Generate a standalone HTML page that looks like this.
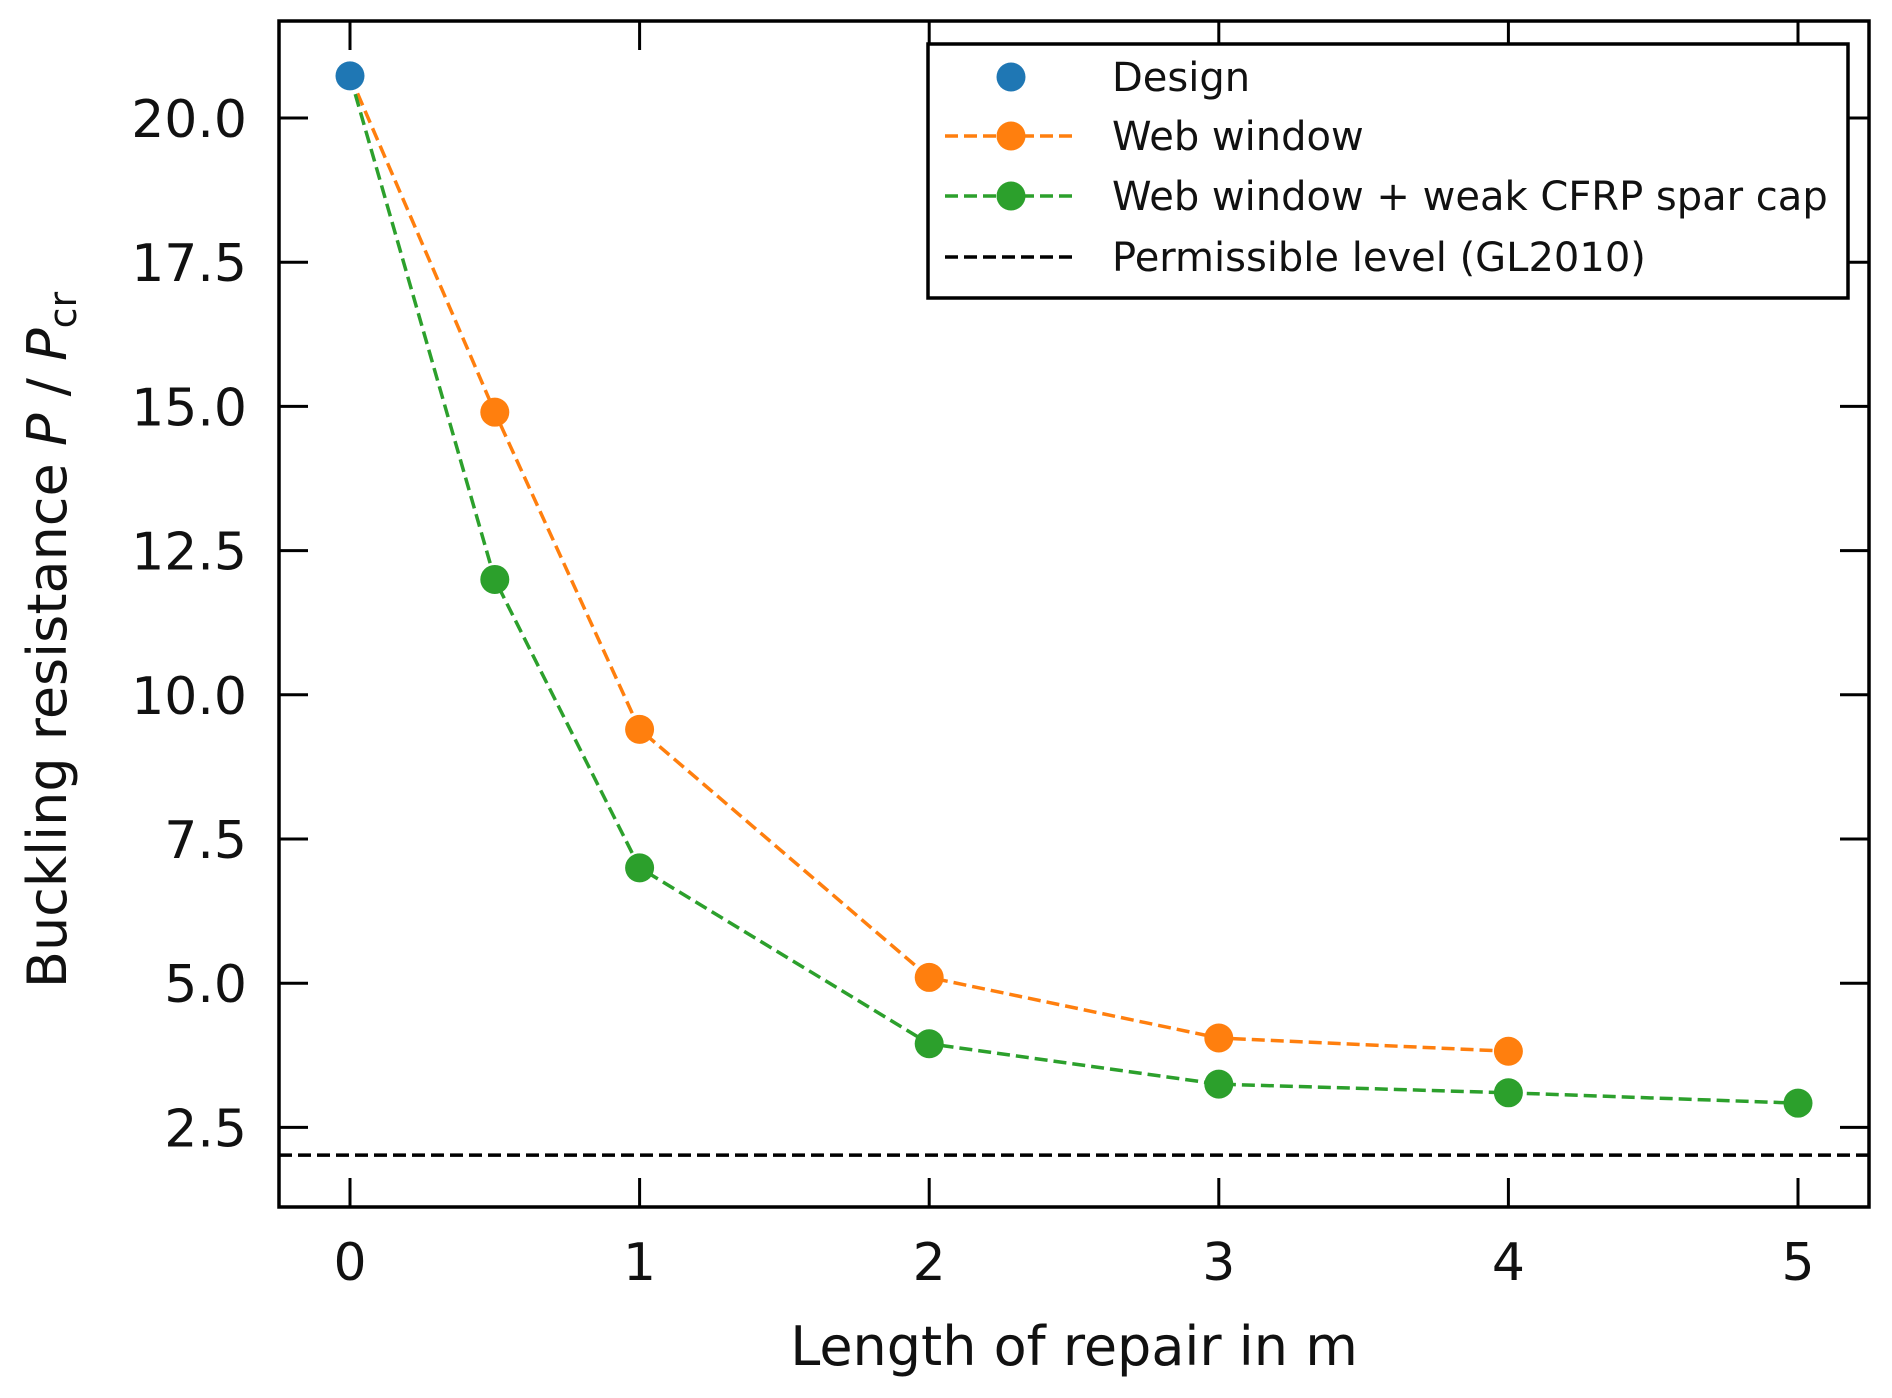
<!DOCTYPE html>
<html><head><meta charset="utf-8"><style>
html,body{margin:0;padding:0;background:#fff}
svg{display:block;font-family:"DejaVu Sans","Liberation Sans",sans-serif}
</style></head><body>
<svg id="chart" width="1892" height="1398" viewBox="0 0 1892 1398" xmlns="http://www.w3.org/2000/svg">
<g id="grid"></g>
<g id="marks"></g>
<g id="axes"></g>
</svg>
<script>
const xTicks=[0,1,2,3,4,5];
const yTicks=[2.5,5.0,7.5,10.0,12.5,15.0,17.5,20.0];
const yTickLabels=["2.5","5.0","7.5","10.0","12.5","15.0","17.5","20.0"];
const designX=[0];
const designY=[20.73];
const webX=[0,0.5,1,2,3,4];
const webY=[20.73,14.9,9.4,5.1,4.05,3.82];
const cfrpX=[0,0.5,1,2,3,4,5];
const cfrpY=[20.73,12.0,7.0,3.95,3.25,3.1,2.92];
const permissible=[2.02];

const L=279,R=1869,T=21,B=1207;
const xs=v=>350+v*289.6;
const ys=v=>118+(20-v)*57.68;
const NS="http://www.w3.org/2000/svg";
const svg=document.getElementById('chart');
function mk(tag,attrs,parent){const e=document.createElementNS(NS,tag);for(const k in attrs)e.setAttribute(k,attrs[k]);(parent||svg).appendChild(e);return e;}
const marks=document.getElementById('marks'),axes=document.getElementById('axes');

let pl=mk('line',{x1:L,x2:R,y1:ys(permissible[0]),y2:ys(permissible[0]),stroke:'#000','stroke-width':3.5,'stroke-dasharray':'13 6'},marks);



function series(xa,ya,color,name,line){
  if(line){
    const p=mk('polyline',{points:xa.map((x,i)=>xs(x)+','+ys(ya[i])).join(' '),fill:'none',stroke:color,'stroke-width':3.5,'stroke-dasharray':'13 6'},marks);
    
    
  }
  xa.forEach((x,i)=>{
    if(line&&i===0)return;
    const c=mk('circle',{cx:xs(x),cy:ys(ya[i]),r:14.5,fill:color},marks);
    
    
  });
}
series(webX,webY,'#ff7f0e','web-window',true);
series(cfrpX,cfrpY,'#2ca02c','web-window-cfrp',true);
series(designX,designY,'#1f77b4','design',false);

let fr=mk('rect',{x:L,y:T,width:R-L,height:B-T,fill:'none',stroke:'#000','stroke-width':3.5},axes);


xTicks.forEach(v=>{
  const x=xs(v);
  mk('line',{x1:x,x2:x,y1:B,y2:B-29,stroke:'#000','stroke-width':3},axes);
  mk('line',{x1:x,x2:x,y1:T,y2:T+29,stroke:'#000','stroke-width':3},axes);
  const t=mk('text',{x:x,y:1280,'font-size':52,'text-anchor':'middle',fill:'#111'},axes);
  t.textContent=String(v);
  
  
});
yTicks.forEach((v,i)=>{
  const y=ys(v);
  mk('line',{x1:L,x2:L+29,y1:y,y2:y,stroke:'#000','stroke-width':3},axes);
  mk('line',{x1:R,x2:R-29,y1:y,y2:y,stroke:'#000','stroke-width':3},axes);
  const t=mk('text',{x:247,y:y+19,'font-size':52,'text-anchor':'end',fill:'#111'},axes);
  t.textContent=yTickLabels[i];
  
  
});
</script>
<svg style="position:absolute;left:0;top:0" width="1892" height="1398" viewBox="0 0 1892 1398" xmlns="http://www.w3.org/2000/svg" font-family="DejaVu Sans, Liberation Sans, sans-serif">
<text x="1074" y="1365" font-size="54" text-anchor="middle" fill="#111">Length of repair in m</text>
<text transform="translate(66,640) rotate(-90)" font-size="54" text-anchor="middle" fill="#111">Buckling resistance <tspan font-style="italic">P</tspan> / <tspan font-style="italic">P</tspan><tspan font-size="38" dy="10">cr</tspan></text>
<g>
<rect x="928" y="44" width="920" height="254" fill="#fff" stroke="#000" stroke-width="3.5"/>
<circle cx="1011" cy="77" r="14.5" fill="#1f77b4"/>
<text x="1112" y="91" font-size="40" fill="#111">Design</text>
<line x1="945" x2="1077" y1="136" y2="136" stroke="#ff7f0e" stroke-width="3.5" stroke-dasharray="13 6"/>
<circle cx="1011" cy="136" r="14.5" fill="#ff7f0e"/>
<text x="1112" y="150" font-size="40" fill="#111">Web window</text>
<line x1="945" x2="1077" y1="196" y2="196" stroke="#2ca02c" stroke-width="3.5" stroke-dasharray="13 6"/>
<circle cx="1011" cy="196" r="14.5" fill="#2ca02c"/>
<text x="1112" y="210" font-size="40" fill="#111">Web window + weak CFRP spar cap</text>
<line x1="945" x2="1077" y1="257" y2="257" stroke="#000" stroke-width="3.5" stroke-dasharray="13 6"/>
<text x="1112" y="271" font-size="40" fill="#111">Permissible level (GL2010)</text>
</g>
</svg>
</body></html>
